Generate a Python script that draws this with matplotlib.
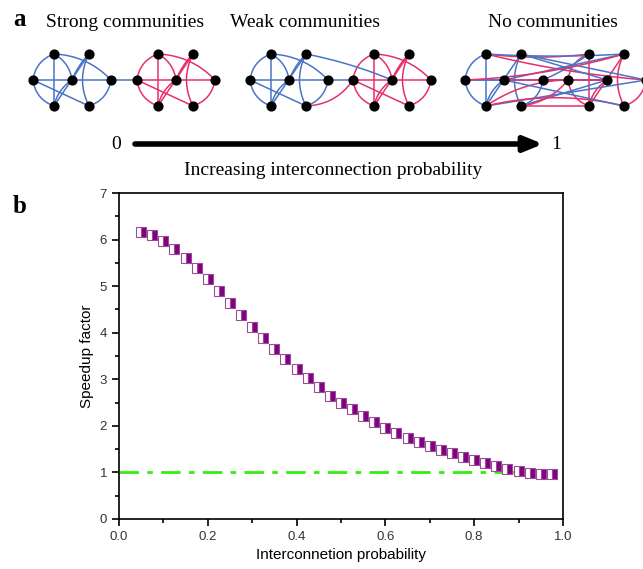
import numpy as np
import matplotlib.pyplot as plt

# speedup data (panel b)
prob = [0.05, 0.075, 0.1, 0.125, 0.15, 0.175, 0.2, 0.225, 0.25, 0.275,
        0.3, 0.325, 0.35, 0.375, 0.4, 0.425, 0.45, 0.475, 0.5, 0.525,
        0.55, 0.575, 0.6, 0.625, 0.65, 0.675, 0.7, 0.725, 0.75, 0.775,
        0.8, 0.825, 0.85, 0.875, 0.9, 0.925, 0.95, 0.975]
speedup = [6.17, 6.10, 5.98, 5.80, 5.60, 5.38, 5.15, 4.90, 4.63, 4.37,
           4.13, 3.88, 3.65, 3.43, 3.22, 3.02, 2.83, 2.65, 2.50, 2.36,
           2.22, 2.08, 1.96, 1.85, 1.74, 1.65, 1.56, 1.48, 1.41, 1.34,
           1.27, 1.20, 1.14, 1.08, 1.03, 0.99, 0.96, 0.96]
baseline_x = [0.0, 0.98]
baseline_y = [1.0, 1.0]

# community layout for panel a (one template, 7 nodes)
node_dx = [0, 21, 56, 39, 78, 21, 56]
node_dy = [0, -26, -26, 0, 0, 26, 26]
comm_edges = [(0, 1, -0.3), (0, 5, 0.3), (1, 5, 0.0), (0, 3, 0.0), (0, 6, 0.0),
              (1, 3, -0.25), (2, 5, 0.0), (2, 6, 0.25), (3, 5, 0.2), (3, 4, 0.0),
              (4, 6, -0.3), (2, 3, 0.1), (1, 4, -0.2)]
none_edges = [(0, 1, -0.3), (0, 5, 0.3), (1, 5, 0.0), (0, 3, 0.0), (2, 5, 0.0),
              (3, 5, 0.2), (4, 6, -0.3), (2, 6, 0.25)]
# cross edges for "no communities": (left node, right node, rad, side colour)
cross_none = [(1, 1, 0.06, 'r'), (1, 4, 0.04, 'r'), (2, 3, 0.0, 'b'), (0, 3, 0.0, 'b'),
              (3, 2, 0.0, 'b'), (5, 0, -0.15, 'r'), (5, 4, 0.0, 'b'), (6, 3, 0.0, 'b'),
              (6, 0, 0.2, 'r'), (5, 6, -0.12, 'r'), (4, 1, 0.05, 'b'), (2, 4, 0.0, 'b'),
              (0, 2, 0.06, 'r'), (3, 6, 0.0, 'b'), (4, 0, 0.0, 'b'), (6, 5, 0.0, 'r'),
              (3, 3, 0.0, 'r'), (1, 2, 0.03, 'b')]
offsets = [(33, 137), (250, 353), (465, 568)]
titles = ['Strong communities', 'Weak communities', 'No communities']
title_x = [125, 305, 553]

blue = '#4a74c6'
red = '#e6306a'
node_y0 = 80

fig = plt.figure(figsize=(6.43, 5.69), dpi=100)
top = fig.add_axes([0, 0, 1, 1])
top.set_xlim(0, 643)
top.set_ylim(569, 0)
top.axis('off')


def pos(off, i):
    return np.array([off + node_dx[i], node_y0 + node_dy[i]], dtype=float)


def edge(p, q, rad, color):
    d = q - p
    ctrl = (p + q) / 2 + rad * np.array([-d[1], d[0]])
    t = np.linspace(0, 1, 40)[:, None]
    pts = (1 - t) ** 2 * p + 2 * (1 - t) * t * ctrl + t ** 2 * q
    top.plot(pts[:, 0], pts[:, 1], color=color, lw=1.1, zorder=2)


for k, (lo, ro) in enumerate(offsets):
    elist = none_edges if k == 2 else comm_edges
    for off, col in [(lo, blue), (ro, red)]:
        for i, j, r in elist:
            edge(pos(off, i), pos(off, j), r, col)
    if k == 0:
        edge(pos(lo, 4), pos(ro, 0), 0.0, blue)
    elif k == 1:
        edge(pos(lo, 4), pos(ro, 0), 0.0, blue)
        edge(pos(lo, 2), pos(ro, 3), -0.05, blue)
        edge(pos(lo, 6), pos(ro, 0), 0.25, red)
    else:
        for i, j, r, c in cross_none:
            edge(pos(lo, i), pos(ro, j), r, red if c == 'r' else blue)
    xs = [pos(o, i)[0] for o in (lo, ro) for i in range(7)]
    ys = [pos(o, i)[1] for o in (lo, ro) for i in range(7)]
    top.scatter(xs, ys, s=40, color='black', zorder=3)
    top.text(title_x[k], 22, titles[k], ha='center', va='center',
             fontsize=14, family='Liberation Serif')

top.text(20, 19, 'a', fontsize=18, fontweight='bold', family='Liberation Serif',
         ha='center', va='center')
top.text(20, 206, 'b', fontsize=18, fontweight='bold', family='Liberation Serif',
         ha='center', va='center')
top.annotate('', xy=(543, 144), xytext=(135, 144),
             arrowprops=dict(arrowstyle='-|>,head_length=1.1,head_width=0.45',
                             lw=4, color='black', shrinkA=0, shrinkB=0))
top.text(116, 144, '0', fontsize=14, family='Liberation Serif', ha='center', va='center')
top.text(556, 144, '1', fontsize=14, family='Liberation Serif', ha='center', va='center')
top.text(333, 170, 'Increasing interconnection probability', fontsize=14,
         family='Liberation Serif', ha='center', va='center')

ax = fig.add_axes([0.185, 0.0879, 0.6905, 0.5729])
ax.plot(baseline_x, baseline_y, color='#33ee11', lw=2, ls=(0, (7, 3, 2, 3)), zorder=2)
ax.plot(prob, speedup, ls='none', marker='s', markersize=7.5, fillstyle='right',
        markerfacecolor='#800080', markerfacecoloralt='white',
        markeredgecolor='#9a4c9a', markeredgewidth=0.8, zorder=3)
ax.set_xlim(0, 1)
ax.set_ylim(0, 7)
ax.set_xticks(np.arange(0, 1.01, 0.2))
ax.set_xticks(np.arange(0.1, 1.0, 0.2), minor=True)
ax.set_yticks(range(8))
ax.set_yticks(np.arange(0.5, 7, 1), minor=True)
ax.tick_params(which='both', direction='out', top=False, right=False,
               labelsize=9.5, labelcolor='#333333', width=1.2)
ax.tick_params(which='major', length=5)
ax.tick_params(which='minor', length=3)
for lab in ax.get_xticklabels() + ax.get_yticklabels():
    lab.set_family('Liberation Sans')
for s in ax.spines.values():
    s.set_linewidth(1.2)
ax.set_xlabel('Interconnetion probability', fontsize=11, family='Liberation Sans')
ax.set_ylabel('Speedup factor', fontsize=11, family='Liberation Sans')

fig.savefig('out.png', dpi=100)
